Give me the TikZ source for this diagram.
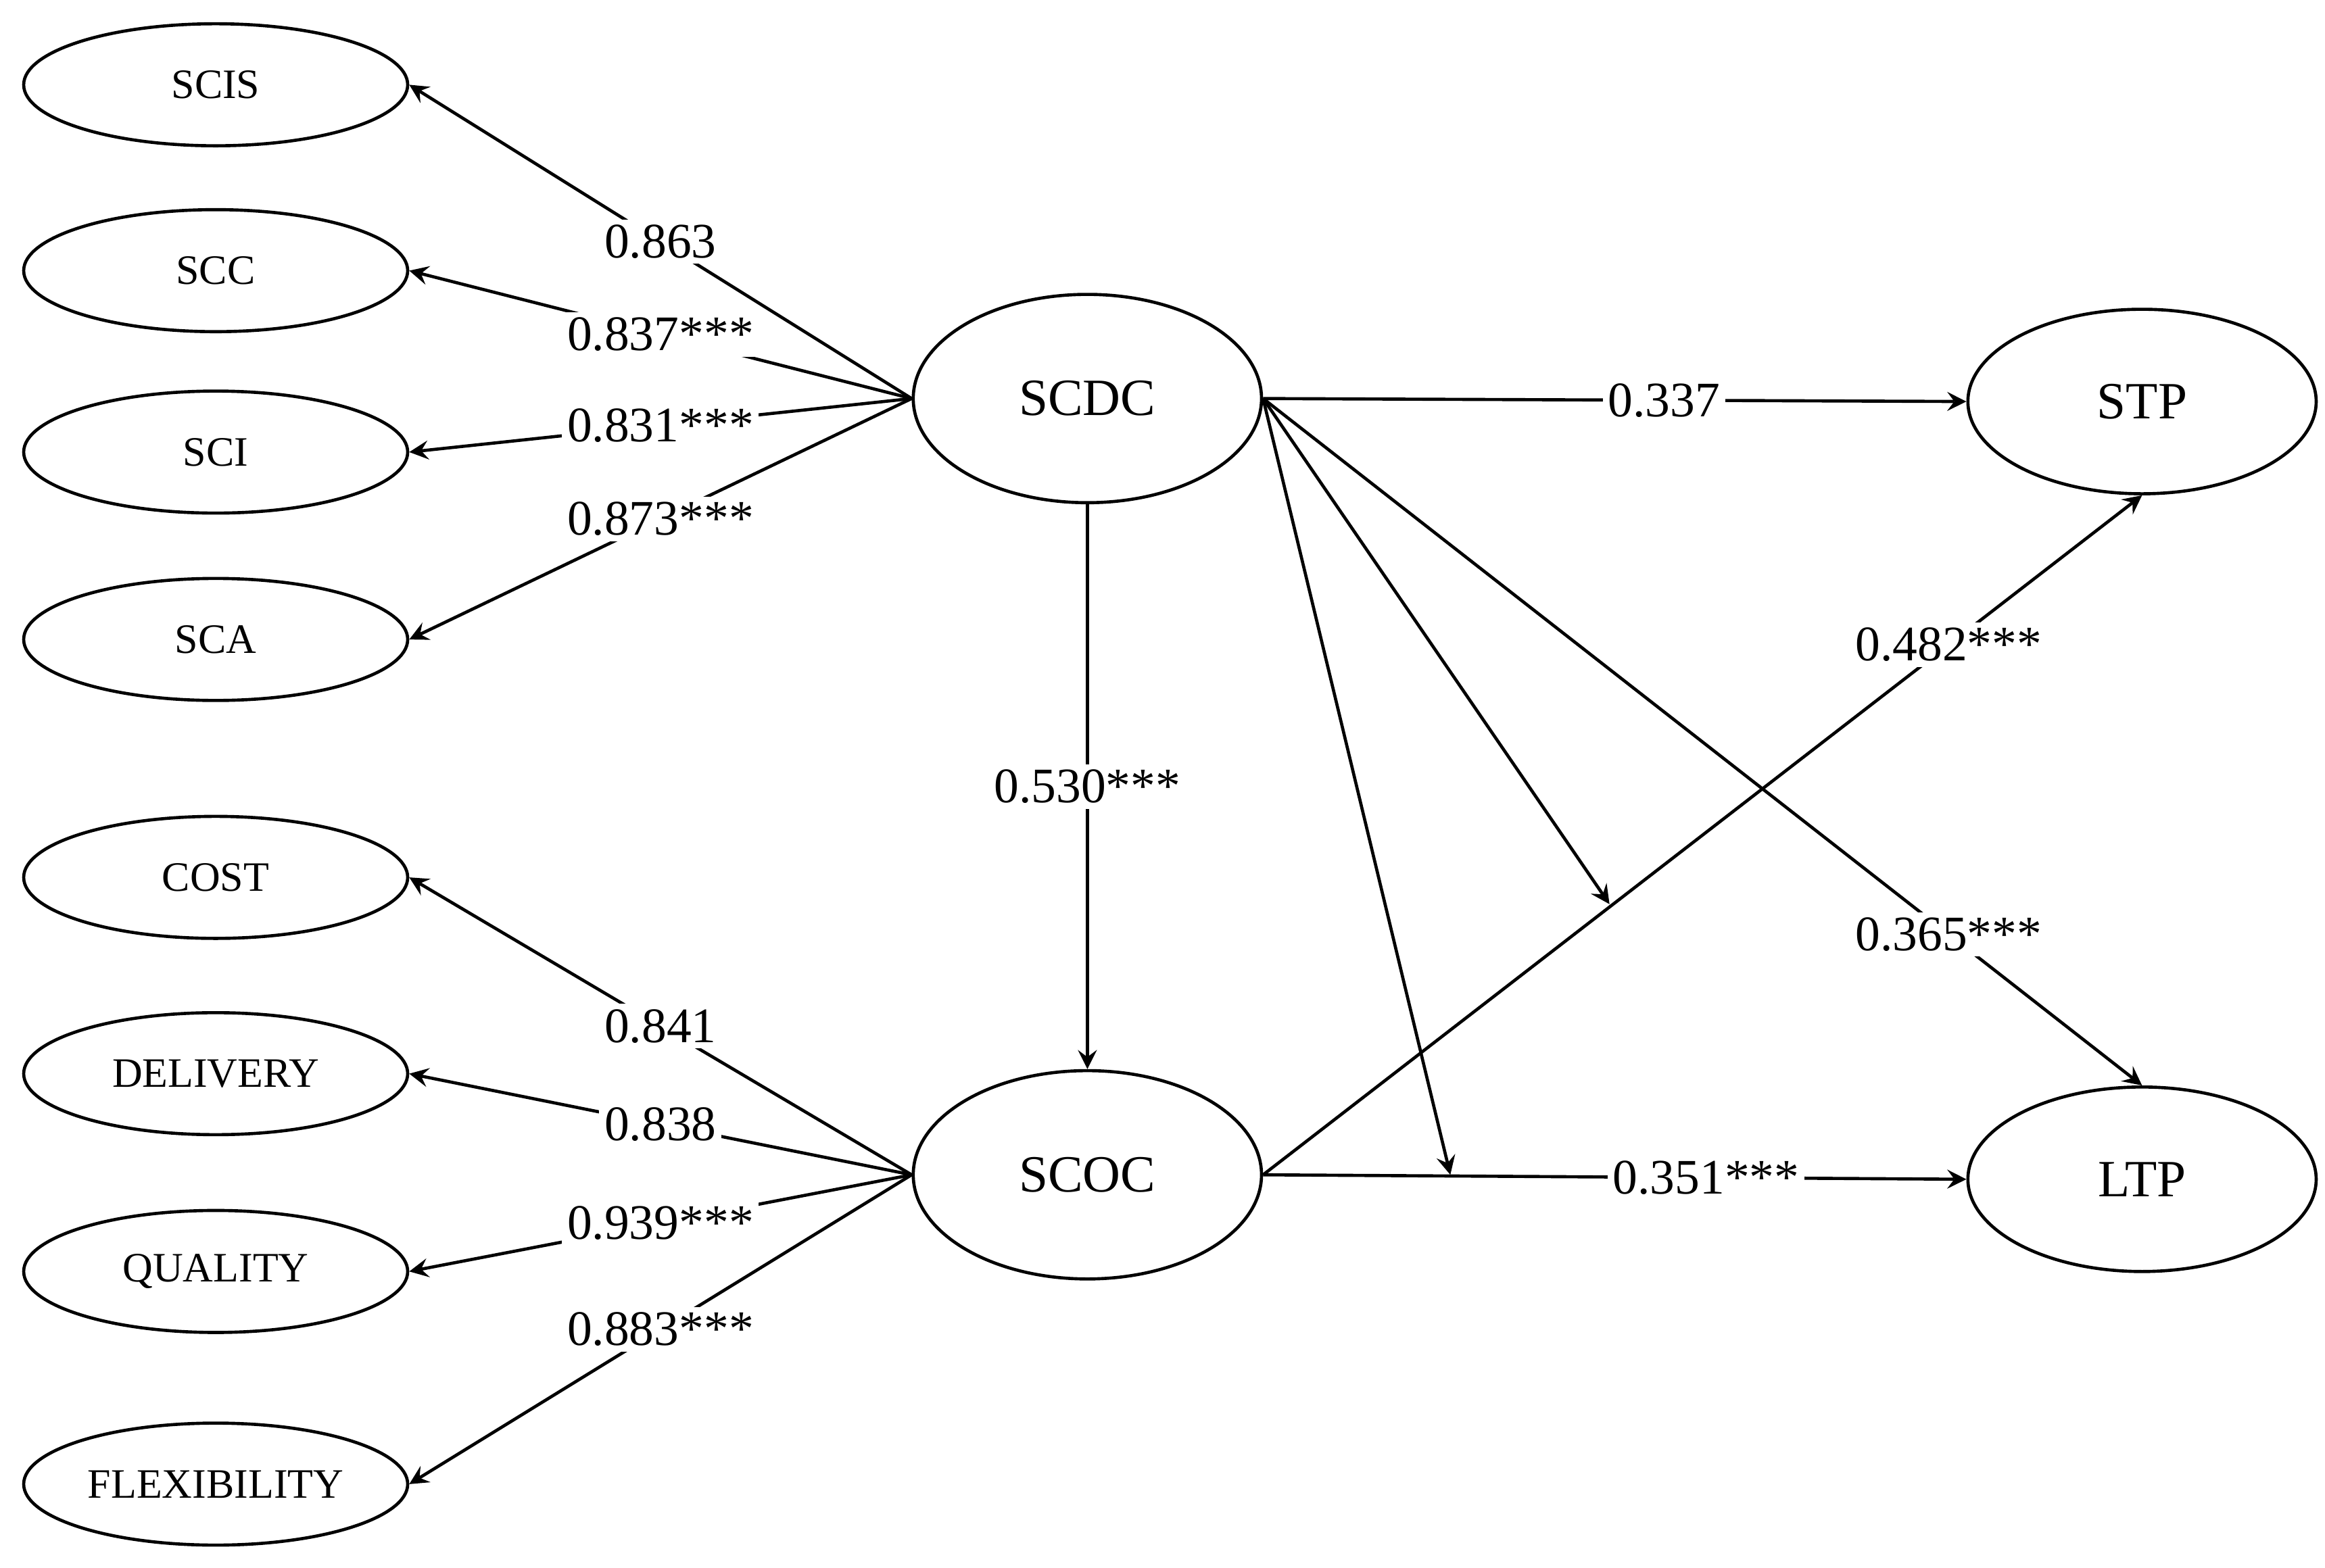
\documentclass[tikz,border=0pt]{standalone}
\usepackage{fontspec}
\setmainfont{Liberation Serif}
\usetikzlibrary{arrows,positioning,shapes.geometric}
\tikzstyle{factor} = [ellipse, draw, semithick, minimum width=2.58cm, minimum height=0.82cm, inner sep=0pt, font=\fontsize{8}{9}\selectfont]
\tikzstyle{latent} = [ellipse, draw, semithick, minimum width=2.34cm, minimum height=1.4cm, inner sep=0pt, font=\fontsize{10}{11}\selectfont]
\tikzstyle{arrow} = [semithick, -stealth]
\tikzstyle{coef} = [fill=white, inner sep=1pt, font=\fontsize{9.5}{11}\selectfont]
\begin{document}
\begin{tikzpicture}[x=0.01cm, y=-0.01cm]
        \useasboundingbox (0,0) rectangle (1563,1054);
        \node[factor] (scis) at (145,57) {SCIS};
        \node[factor] (scc) at (145,182) {SCC};
        \node[factor] (sci) at (145,304) {SCI};
        \node[factor] (sca) at (145,430) {SCA};
        \node[factor] (cost) at (145,590) {COST};
        \node[factor] (delivery) at (145,722) {DELIVERY};
        \node[factor] (quality) at (145,855) {QUALITY};
        \node[factor] (flexibility) at (145,998) {FLEXIBILITY};
        \node[latent] (scdc) at (731,268) {SCDC};
        \node[latent] (scoc) at (731,790) {SCOC};
        \node[latent, minimum height=1.24cm] (stp) at (1440,270) {STP};
        \node[latent, minimum height=1.24cm] (ltp) at (1440,793) {LTP};
        \coordinate (m1) at (1082,608);
        \coordinate (m2) at (975,790);

        \draw[arrow] (scdc.west) -- (scis.east) node[coef, pos=0.5] {0.863};
        \draw[arrow] (scdc.west) -- (scc.east) node[coef, pos=0.5] {0.837***};
        \draw[arrow] (scdc.west) -- (sci.east) node[coef, pos=0.5] {0.831***};
        \draw[arrow] (scdc.west) -- (sca.east) node[coef, pos=0.5] {0.873***};
        \draw[arrow] (scoc.west) -- (cost.east) node[coef, pos=0.5] {0.841};
        \draw[arrow] (scoc.west) -- (delivery.east) node[coef, pos=0.5] {0.838};
        \draw[arrow] (scoc.west) -- (quality.east) node[coef, pos=0.5] {0.939***};
        \draw[arrow] (scoc.west) -- (flexibility.east) node[coef, pos=0.5] {0.883***};

        \draw[arrow] (scdc.east) -- (stp.west) node[coef, pos=0.57] {0.337};
        \draw[arrow] (scdc.south) -- (scoc.north) node[coef, midway] {0.530***};
        \draw[arrow] (scoc.east) -- (stp.south) node[coef, pos=0.78] {0.482***};
        \draw[arrow] (scdc.east) -- (ltp.north) node[coef, pos=0.78] {0.365***};
        \draw[arrow] (scoc.east) -- (ltp.west) node[coef, pos=0.63] {0.351***};
        \draw[arrow] (scdc.east) -- (m1);
        \draw[arrow] (scdc.east) -- (m2);
    \end{tikzpicture}
\end{document}
